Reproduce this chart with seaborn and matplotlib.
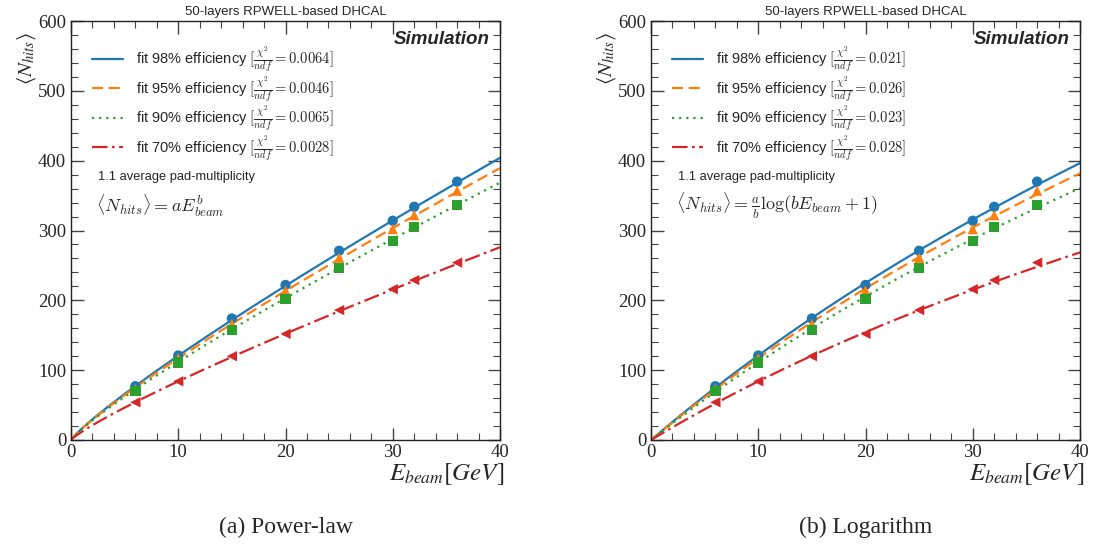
import numpy as np
import pandas as pd
import matplotlib
matplotlib.use("Agg")
import matplotlib.pyplot as plt
import seaborn as sns

# ---------------- data ----------------
energies = [6, 10, 15, 20, 25, 30, 32, 36]
eff_labels = ["98%", "95%", "90%", "70%"]
nhits_98 = [77, 121, 174, 222, 271, 314, 334, 370]
nhits_95 = [73, 117, 166, 214, 261, 302, 322, 357]
nhits_90 = [70, 111, 158, 202, 246, 285, 305, 337]
nhits_70 = [54, 84, 120, 152, 186, 216, 229, 254]

# power-law fit parameters  <N> = a E^b
pow_a = [16.2, 15.9, 15.5, 11.65]
pow_b = [0.872, 0.867, 0.859, 0.858]
pow_chi2 = ["0.0064", "0.0046", "0.0065", "0.0028"]

# logarithm fit parameters <N> = a/b log(b E + 1)
log_a = [13.16, 12.75, 12.12, 9.25]
log_b = [0.018, 0.0185, 0.019, 0.021]
log_chi2 = ["0.021", "0.026", "0.023", "0.028"]

title_text = "50-layers RPWELL-based DHCAL"
captions = ["(a) Power-law", "(b) Logarithm"]
formulas = [r"$\langle N_{hits}\rangle = aE^{b}_{beam}$",
            r"$\langle N_{hits}\rangle = \frac{a}{b}\log(bE_{beam}+1)$"]

# ---------------- style ----------------
sns.set_theme(style="white")
plt.rcParams["font.family"] = ["Liberation Sans", "DejaVu Sans"]
plt.rcParams["mathtext.fontset"] = "stix"

colors = ["#1f77b4", "#ff7f0e", "#2ca02c", "#d62728"]
markers = ["o", "^", "s", "<"]
linestyles = ["-", (0, (5, 2.5)), (0, (1, 2.2)), (0, (7, 2, 1.2, 2))]

series = [nhits_98, nhits_95, nhits_90, nhits_70]

fig = plt.figure(figsize=(10.94, 5.49), dpi=100)
ax_pos = [[71 / 1094, 109 / 549, 429 / 1094, 419 / 549],
          [651 / 1094, 109 / 549, 429 / 1094, 419 / 549]]

xfine = np.linspace(0, 40, 400)

for k in range(2):
    ax = fig.add_axes(ax_pos[k])
    handles = []
    for i in range(4):
        if k == 0:
            yfit = pow_a[i] * xfine ** pow_b[i]
            chi = pow_chi2[i]
        else:
            yfit = log_a[i] / log_b[i] * np.log(log_b[i] * xfine + 1)
            chi = log_chi2[i]
        df_fit = pd.DataFrame({"E": xfine, "N": yfit})
        sns.lineplot(data=df_fit, x="E", y="N", ax=ax, color=colors[i],
                     linestyle=linestyles[i], linewidth=1.6, zorder=2)
        handles.append((ax.lines[-1],
                        "fit " + eff_labels[i] + r" efficiency $[\frac{\chi^2}{ndf} = " + chi + "]$"))
        df_pts = pd.DataFrame({"E": energies, "N": series[i]})
        sns.scatterplot(data=df_pts, x="E", y="N", ax=ax, color=colors[i],
                        marker=markers[i], s=55, edgecolor="none", zorder=3)

    ax.set_xlim(0, 40)
    ax.set_ylim(0, 600)
    ax.set_xticks([0, 10, 20, 30, 40])
    ax.set_yticks([0, 100, 200, 300, 400, 500, 600])
    ax.set_xticks(np.arange(0, 41, 2), minor=True)
    ax.set_yticks(np.arange(0, 601, 20), minor=True)
    ax.tick_params(which="both", direction="in", top=True, right=True,
                   bottom=True, left=True, color="#444444")
    ax.tick_params(which="major", length=9, width=1.0)
    ax.tick_params(which="minor", length=5, width=0.8)
    for lab in ax.get_xticklabels() + ax.get_yticklabels():
        lab.set_family("Liberation Serif")
        lab.set_fontsize(13.5)
    ax.tick_params(axis="x", pad=3)
    for sp in ax.spines.values():
        sp.set_color("#222222")
        sp.set_linewidth(1.0)

    ax.set_xlabel(r"$E_{beam}[GeV]$", fontsize=18)
    ax.xaxis.set_label_coords(1.01, -0.05)
    ax.xaxis.label.set_horizontalalignment("right")
    ax.set_ylabel(r"$\langle N_{hits}\rangle$", fontsize=15)
    ax.yaxis.set_label_coords(-0.078, 0.975)
    ax.yaxis.label.set_horizontalalignment("right")

    ax.set_title(title_text, fontsize=9.5, pad=4)

    ax.text(0.977, 0.957, "Simulation", transform=ax.transAxes,
            ha="right", va="center", fontsize=13.5, fontweight="bold",
            fontstyle="italic")

    leg = ax.legend([h for h, _ in handles], [t for _, t in handles],
                    loc="upper left", bbox_to_anchor=(0.025, 0.968),
                    frameon=False, fontsize=10.5, handlelength=2.1,
                    labelspacing=0.0, handletextpad=0.9, borderaxespad=0.3)
    for t in leg.get_texts():
        t.set_math_fontfamily("cm")

    ax.text(0.063, 0.627, "1.1 average pad-multiplicity", transform=ax.transAxes,
            ha="left", va="center", fontsize=9.3)
    ax.text(0.058, 0.558, formulas[k], transform=ax.transAxes,
            ha="left", va="center", fontsize=13, math_fontfamily="cm")

    fig.text(ax_pos[k][0] + ax_pos[k][2] / 2 - 0.0, 1 - 527 / 549, captions[k],
             ha="center", va="center", fontsize=17, family="Liberation Serif")

fig.savefig("out.png", dpi=100)
